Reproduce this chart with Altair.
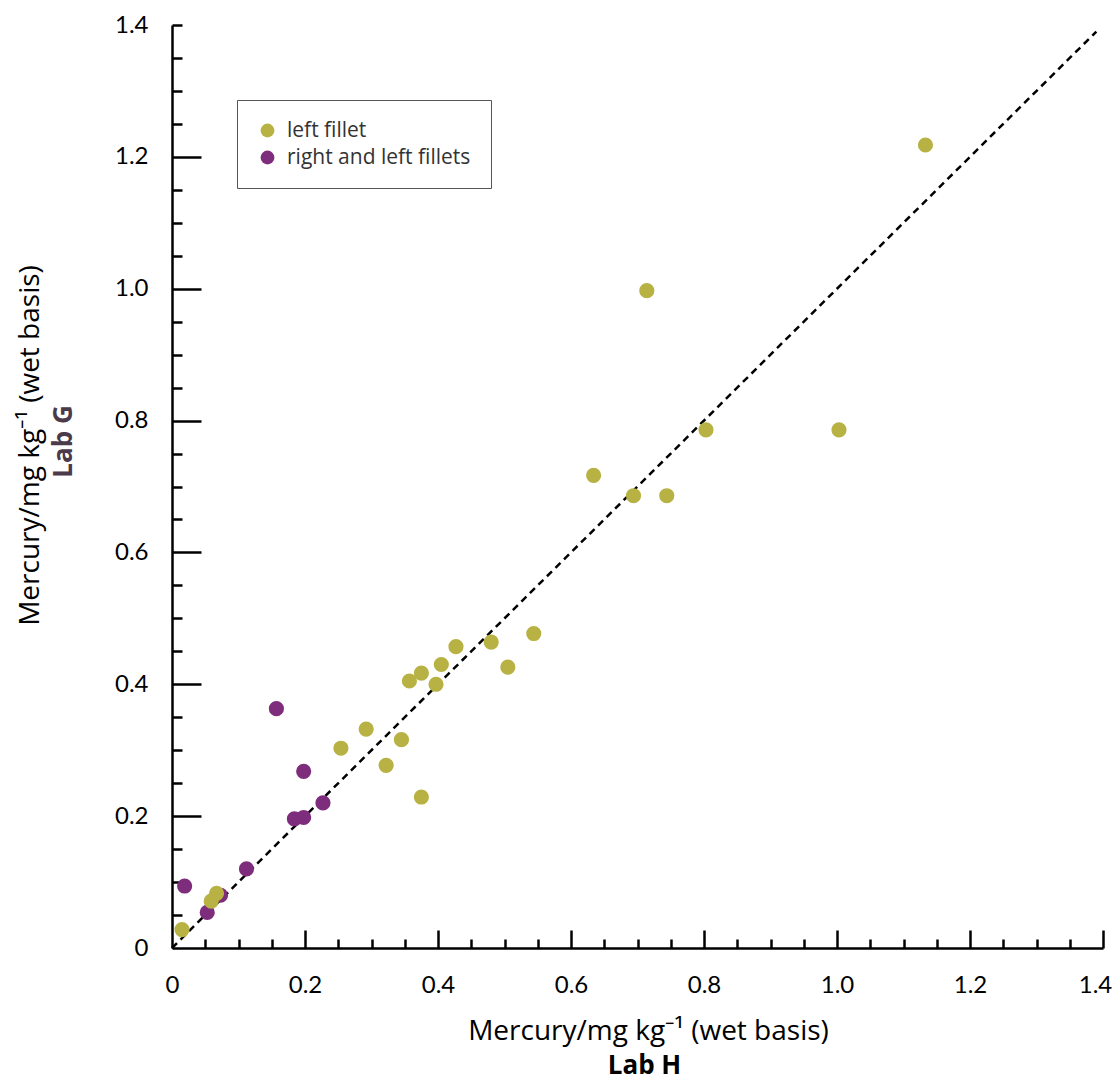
import altair as alt
import pandas as pd

# Mercury, mg/kg wet basis: Lab H (x) vs Lab G (y)
left_x = [0.015, 0.059, 0.067, 0.254, 0.292, 0.322, 0.345, 0.375, 0.357, 0.375, 0.397, 0.405,
          0.427, 0.480, 0.505, 0.544, 0.634, 0.694, 0.744, 0.714, 0.803, 1.003, 1.133]
left_y = [0.028, 0.071, 0.083, 0.303, 0.332, 0.277, 0.316, 0.229, 0.405, 0.417, 0.400, 0.430,
          0.457, 0.464, 0.426, 0.477, 0.717, 0.686, 0.686, 0.997, 0.786, 0.786, 1.218]
both_x = [0.019, 0.053, 0.073, 0.112, 0.184, 0.198, 0.227, 0.198, 0.157]
both_y = [0.094, 0.054, 0.080, 0.120, 0.196, 0.198, 0.220, 0.268, 0.363]

series = ["left fillet", "right and left fillets"]
colors = ["#b7b243", "#7e2c7c"]

line_v = [0, 1.39]

label_values = [0, 0.2, 0.4, 0.6, 0.8, 1.0, 1.2, 1.4]
x_major = [0.2, 0.4, 0.6, 0.8, 1.0, 1.2, 1.4]
x_minor = [0.05, 0.1, 0.15, 0.25, 0.3, 0.35, 0.45, 0.5, 0.55, 0.65, 0.7, 0.75,
           0.85, 0.9, 0.95, 1.05, 1.1, 1.15, 1.25, 1.3, 1.35]
y_major = [0.2, 0.4, 0.6, 0.8, 1.0, 1.2]
y_minor = [0.05, 0.1, 0.15, 0.25, 0.3, 0.35, 0.45, 0.5, 0.55, 0.65, 0.7, 0.75,
           0.85, 0.9, 0.95, 1.05, 1.1, 1.15, 1.25, 1.3, 1.35, 1.4]

W, H = 931, 923
FONT = "Lato"
TFONT = "Open Sans"
TITLE = "Mercury/mg kg\u207b\u00b9 (wet basis)"

pts = pd.DataFrame({
    "x": both_x + left_x,
    "y": both_y + left_y,
    "s": [series[1]] * len(both_x) + [series[0]] * len(left_x),
})
line_df = pd.DataFrame({"v": line_v})

sx = alt.Scale(domain=[0, 1.4], nice=False, zero=False)
sy = alt.Scale(domain=[0, 1.4], nice=False, zero=False)

lab_expr = "datum.value == 0 ? '0' : format(datum.value, '.1f')"

line = alt.Chart(line_df).mark_line(color="black", strokeDash=[7, 5], strokeWidth=2.5).encode(
    x=alt.X("v:Q", scale=sx, axis=alt.Axis(
        orient="bottom", values=label_values, ticks=False, tickSize=0, grid=False,
        domain=True, domainColor="black", domainWidth=2.5,
        labelFont=FONT, labelFontSize=24, labelColor="black", labelPadding=25,
        labelFlush=False, labelOverlap=False, labelExpr=lab_expr,
        labelOffset={"condition": {"test": "datum.value >= 1.39", "value": -8}, "value": 0},
        title=TITLE, titleFont=TFONT, titleFontSize=28, titleFontWeight="normal",
        titleColor="black", titleX=476, titleY=83, titleBaseline="middle", titleAlign="center")),
    y=alt.Y("v:Q", scale=sy, axis=alt.Axis(
        orient="left", values=label_values, ticks=False, tickSize=0, grid=False,
        domain=True, domainColor="black", domainWidth=2.5,
        labelFont=FONT, labelFontSize=24, labelColor="black", labelPadding=24,
        labelFlush=False, labelOverlap=False, labelExpr=lab_expr,
        title=TITLE, titleFont=TFONT, titleFontSize=28, titleFontWeight="normal",
        titleColor="black", titleX=-142, titleY=420, titleBaseline="middle", titleAlign="center")),
)

def tick_layer(xvals, xsize, yvals, ysize):
    return alt.Chart(line_df).mark_point(opacity=0).encode(
        x=alt.X("v:Q", scale=sx, axis=alt.Axis(
            orient="top", offset=-H, values=xvals, ticks=True, tickSize=xsize,
            tickColor="black", tickWidth=2.5, labels=False, domain=False, grid=False, title=None)),
        y=alt.Y("v:Q", scale=sy, axis=alt.Axis(
            orient="right", offset=-W, values=yvals, ticks=True, tickSize=ysize,
            tickColor="black", tickWidth=2.5, labels=False, domain=False, grid=False, title=None)),
    )

major = tick_layer(x_major, 18, y_major, 29)
minor = tick_layer(x_minor, 9, y_minor, 10)

points = alt.Chart(pts).mark_circle(size=230, opacity=1).encode(
    x=alt.X("x:Q", scale=sx, axis=alt.Axis(
        orient="bottom", labels=False, ticks=False, domain=False, grid=False,
        title="Lab H", titleFont=TFONT, titleFontSize=26, titleFontWeight="bold",
        titleColor="black", titleX=472, titleY=117, titleBaseline="middle", titleAlign="center")),
    y=alt.Y("y:Q", scale=sy, axis=alt.Axis(
        orient="left", labels=False, ticks=False, domain=False, grid=False,
        title="Lab G", titleFont=TFONT, titleFontSize=26, titleFontWeight="bold",
        titleColor="#4b3a4a", titleX=-109, titleY=416, titleBaseline="middle", titleAlign="center")),
    color=alt.Color("s:N", scale=alt.Scale(domain=series, range=colors), legend=alt.Legend(
        title=None, orient="none", legendX=65, legendY=75, strokeColor="#555555",
        fillColor="white", padding=20, labelFont=TFONT, labelFontSize=21, labelColor="#333333",
        labelLimit=400, symbolType="circle", symbolSize=190, symbolOpacity=1,
        rowPadding=5, labelOffset=9)),
)

chart = alt.layer(line, major, minor, points).resolve_axis(
    x="independent", y="independent"
).properties(
    width=W, height=H,
    autosize=alt.AutoSizeParams(type="none"),
    padding={"left": 164, "top": 17, "right": 9, "bottom": 133},
).configure_view(stroke=None)

chart.save("out.html", embed_options={"renderer": "svg", "actions": False})
